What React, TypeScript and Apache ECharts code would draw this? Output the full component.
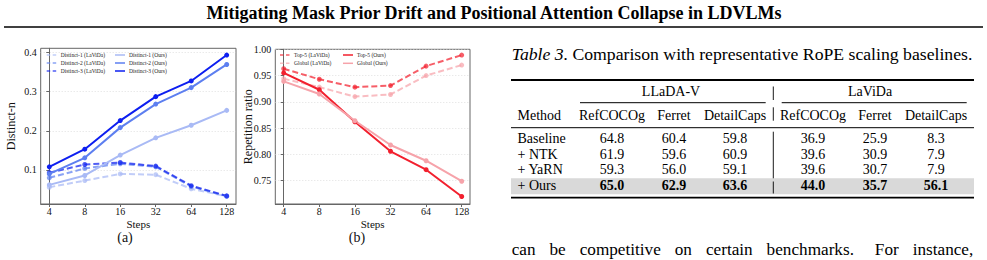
import React, { useEffect, useRef } from 'react';
import * as echarts from 'echarts';

// ---------- data ----------
const steps = ['4', '8', '16', '32', '64', '128'];
const stepIndex = [0, 1, 2, 3, 4, 5];

const distinct1LaViDa = [0.056, 0.073, 0.090, 0.088, 0.052, 0.033];
const distinct2LaViDa = [0.080, 0.104, 0.116, 0.108, 0.058, 0.033];
const distinct3LaViDa = [0.093, 0.114, 0.119, 0.110, 0.060, 0.034];
const distinct1Ours = [0.062, 0.086, 0.138, 0.182, 0.214, 0.252];
const distinct2Ours = [0.090, 0.131, 0.208, 0.268, 0.310, 0.369];
const distinct3Ours = [0.108, 0.153, 0.226, 0.287, 0.327, 0.393];

const top5LaViDa = [0.963, 0.943, 0.928, 0.931, 0.968, 0.989];
const globalLaViDa = [0.944, 0.928, 0.910, 0.914, 0.950, 0.970];
const top5Ours = [0.955, 0.923, 0.862, 0.806, 0.771, 0.720];
const globalOurs = [0.939, 0.915, 0.864, 0.818, 0.788, 0.749];

const distinctTicks = [0.1, 0.2, 0.3, 0.4];
const repetitionTicks = [0.75, 0.8, 0.85, 0.9, 0.95, 1.0];

const pageTitle = 'Mitigating Mask Prior Drift and Positional Attention Collapse in LDVLMs';
const tableCaptionLabel = 'Table 3.';
const tableCaptionText = ' Comparison with representative RoPE scaling baselines.';
const tableGroups = ['LLaDA-V', 'LaViDa'];
const tableMethodHeader = 'Method';
const tableColumns = ['RefCOCOg', 'Ferret', 'DetailCaps', 'RefCOCOg', 'Ferret', 'DetailCaps'];
const tableMethods = ['Baseline', '+ NTK', '+ YaRN', '+ Ours'];
const tableValues = [
  [64.8, 60.4, 59.8, 36.9, 25.9, 8.3],
  [61.9, 59.6, 60.9, 39.6, 30.9, 7.9],
  [59.3, 56.0, 59.1, 39.6, 30.7, 7.9],
  [65.0, 62.9, 63.6, 44.0, 35.7, 56.1],
];
const bottomWords = ['can', 'be', 'competitive', 'on', 'certain', 'benchmarks.', 'For', 'instance,'];

// ---------- styles ----------
const F = "'Liberation Serif', 'Times New Roman', Times, serif";
const C_D1 = '#a9baf5';
const C_D2 = '#5d7ff0';
const C_D3 = '#0d1ff0';
const C_TOP5 = '#f2202e';
const C_GLOBAL = '#f6a3aa';
const FRAME = '#666';

type SDef = { name: string; data: number[]; color: string; dashed: boolean; grid: number };

const seriesDefs: SDef[] = [
  { name: 'Distinct-1 (LaViDa)', data: distinct1LaViDa, color: C_D1, dashed: true, grid: 0 },
  { name: 'Distinct-2 (LaViDa)', data: distinct2LaViDa, color: C_D2, dashed: true, grid: 0 },
  { name: 'Distinct-3 (LaViDa)', data: distinct3LaViDa, color: C_D3, dashed: true, grid: 0 },
  { name: 'Distinct-1 (Ours)', data: distinct1Ours, color: C_D1, dashed: false, grid: 0 },
  { name: 'Distinct-2 (Ours)', data: distinct2Ours, color: C_D2, dashed: false, grid: 0 },
  { name: 'Distinct-3 (Ours)', data: distinct3Ours, color: C_D3, dashed: false, grid: 0 },
  { name: 'Top-5 (LaViDa)', data: top5LaViDa, color: C_TOP5, dashed: true, grid: 1 },
  { name: 'Global (LaViDa)', data: globalLaViDa, color: C_GLOBAL, dashed: true, grid: 1 },
  { name: 'Top-5 (Ours)', data: top5Ours, color: C_TOP5, dashed: false, grid: 1 },
  { name: 'Global (Ours)', data: globalOurs, color: C_GLOBAL, dashed: false, grid: 1 },
];

const DASH = [6, 3];

function measure(text: string, font: string): number {
  const c = document.createElement('canvas').getContext('2d');
  if (!c) return text.length * 8;
  c.font = font;
  return c.measureText(text).width;
}

function buildOption() {
  const grids = [
    { left: 40.7, top: 48.3, width: 195.3, height: 155.7 },
    { left: 275.3, top: 49.3, width: 194.7, height: 154.7 },
  ].map((g) => ({ ...g, show: true, borderColor: FRAME, borderWidth: 1, backgroundColor: 'transparent' }));

  const xRanges = [
    [-0.242, 5.262],
    [-0.236, 5.233],
  ];

  const xAxes = xRanges.map((r, i) => ({
    type: 'value',
    gridIndex: i,
    min: r[0],
    max: r[1],
    name: 'Steps',
    nameLocation: 'middle',
    nameGap: 14,
    nameMoveOverlap: false,
    nameTextStyle: { fontFamily: F, fontSize: 11, color: '#111' },
    axisLine: { show: true, onZero: false, lineStyle: { color: FRAME, width: 1 } },
    axisTick: { show: true, length: 3, customValues: stepIndex, lineStyle: { color: FRAME } },
    axisLabel: {
      customValues: stepIndex,
      margin: 2,
      fontFamily: F,
      fontSize: 10,
      color: '#111',
      formatter: (v: number) => steps[Math.round(v)],
    },
    splitLine: { show: false },
  }));

  const yAxes = [
    { gridIndex: 0, min: 0.0133, max: 0.4102, name: 'Distinct-n', ticks: distinctTicks, digits: 1, gap: 24 },
    { gridIndex: 1, min: 0.7057, max: 1.0, name: 'Repetition ratio', ticks: repetitionTicks, digits: 2, gap: 21.5 },
  ].map((a) => ({
    type: 'value',
    gridIndex: a.gridIndex,
    min: a.min,
    max: a.max,
    name: a.name,
    nameLocation: 'middle',
    nameGap: a.gap,
    nameMoveOverlap: false,
    nameRotate: 90,
    nameTextStyle: { fontFamily: F, fontSize: 12, color: '#111' },
    axisLine: { show: true, lineStyle: { color: FRAME, width: 1 } },
    axisTick: { show: true, length: 3, customValues: a.ticks, lineStyle: { color: FRAME } },
    axisLabel: {
      customValues: a.ticks,
      margin: 4,
      fontFamily: F,
      fontSize: 10,
      color: '#111',
      formatter: (v: number) => v.toFixed(a.digits),
    },
    splitLine: { show: true, lineStyle: { color: '#d8d8d8', type: [1, 2], width: 0.8 } },
  }));

  const series = seriesDefs.map((s) => ({
    type: 'line',
    name: s.name,
    xAxisIndex: s.grid,
    yAxisIndex: s.grid,
    data: s.data.map((v, i) => [stepIndex[i], v]),
    symbol: 'circle',
    symbolSize: 5,
    z: s.dashed ? 2 : 3,
    lineStyle: { color: s.color, width: 2, type: s.dashed ? DASH : 'solid', opacity: s.dashed ? 0.72 : 1 },
    itemStyle: { color: s.color, opacity: s.dashed ? 0.72 : 1 },
  }));

  // ----- graphic: legends -----
  const graphics: any[] = [];
  const legendLayouts = [
    { grid: 0, cols: [46.7, 115], rows: [55, 63, 71], perCol: 3 },
    { grid: 1, cols: [280, 343], rows: [55, 63.3], perCol: 2 },
  ];
  legendLayouts.forEach((L) => {
    const defs = seriesDefs.filter((s) => s.grid === L.grid);
    defs.forEach((s, k) => {
      const col = Math.floor(k / L.perCol);
      const row = k % L.perCol;
      const x = L.cols[col];
      const y = L.rows[row];
      graphics.push({
        type: 'line',
        shape: { x1: x, y1: y, x2: x + 10, y2: y },
        style: {
          stroke: s.color,
          lineWidth: 1.5,
          lineDash: s.dashed ? [3.5, 2.5] : null,
          opacity: s.dashed ? 0.72 : 1,
        },
        z: 10,
      });
      graphics.push({
        type: 'text',
        x: x + 14,
        y: y,
        style: { text: s.name, font: `5.5px ${F}`, fill: '#222', align: 'left', verticalAlign: 'middle' },
        z: 10,
      });
    });
  });

  // sub-captions
  graphics.push({
    type: 'text', x: 125, y: 237.5,
    style: { text: '(a)', font: `14px ${F}`, fill: '#111', align: 'center', verticalAlign: 'middle' },
  });
  graphics.push({
    type: 'text', x: 357, y: 237.5,
    style: { text: '(b)', font: `14px ${F}`, fill: '#111', align: 'center', verticalAlign: 'middle' },
  });

  // page header
  graphics.push({
    type: 'text', x: 494, y: 13,
    style: { text: pageTitle, font: `bold 18px ${F}`, fill: '#000', align: 'center', verticalAlign: 'middle' },
  });
  graphics.push({
    type: 'line', shape: { x1: 4, y1: 27, x2: 983, y2: 27 },
    style: { stroke: '#000', lineWidth: 1.5 },
  });

  // table caption
  graphics.push({
    type: 'text', x: 511.7, y: 54,
    style: {
      text: `{i|${tableCaptionLabel}}{n|${tableCaptionText}}`,
      align: 'left',
      verticalAlign: 'middle',
      rich: {
        i: { fontFamily: F, fontSize: 17.7, fontStyle: 'italic', fill: '#000' },
        n: { fontFamily: F, fontSize: 17.7, fill: '#000' },
      },
    },
  });

  const TL = 511;
  const TR = 974;
  const colX = [612, 674, 735, 813, 875, 936];
  const groupX = [671, 870];
  const rowY = [138.3, 154.3, 169.6, 185];
  const fs = 14;

  // rules
  graphics.push({ type: 'rect', shape: { x: TL, y: 178.3, width: TR - TL, height: 16 }, style: { fill: '#d9d9d9' } });
  graphics.push({ type: 'line', shape: { x1: TL, y1: 80, x2: TR, y2: 80 }, style: { stroke: '#000', lineWidth: 1.8 } });
  graphics.push({ type: 'line', shape: { x1: 580, y1: 102.7, x2: 765.7, y2: 102.7 }, style: { stroke: '#000', lineWidth: 1 } });
  graphics.push({ type: 'line', shape: { x1: 781.7, y1: 102.7, x2: 966.7, y2: 102.7 }, style: { stroke: '#000', lineWidth: 1 } });
  graphics.push({ type: 'line', shape: { x1: TL, y1: 127.7, x2: TR, y2: 127.7 }, style: { stroke: '#000', lineWidth: 1 } });
  graphics.push({ type: 'line', shape: { x1: TL, y1: 197.7, x2: TR, y2: 197.7 }, style: { stroke: '#000', lineWidth: 1.8 } });
  [
    [86.5, 100],
    [107.3, 120.7],
    [131.7, 178.3],
    [181.5, 193.5],
  ].forEach(([a, b]) =>
    graphics.push({ type: 'line', shape: { x1: 773.3, y1: a, x2: 773.3, y2: b }, style: { stroke: '#000', lineWidth: 0.9 } })
  );

  tableGroups.forEach((g, i) =>
    graphics.push({
      type: 'text', x: groupX[i], y: 91.7,
      style: { text: g, font: `${fs}px ${F}`, fill: '#000', align: 'center', verticalAlign: 'middle' },
    })
  );
  graphics.push({
    type: 'text', x: 517.5, y: 115,
    style: { text: tableMethodHeader, font: `${fs}px ${F}`, fill: '#000', align: 'left', verticalAlign: 'middle' },
  });
  tableColumns.forEach((c, i) =>
    graphics.push({
      type: 'text', x: colX[i], y: 115,
      style: { text: c, font: `${fs}px ${F}`, fill: '#000', align: 'center', verticalAlign: 'middle' },
    })
  );
  tableMethods.forEach((m, r) => {
    graphics.push({
      type: 'text', x: 517.5, y: rowY[r],
      style: { text: m, font: `${fs}px ${F}`, fill: '#000', align: 'left', verticalAlign: 'middle' },
    });
    const bold = r === tableMethods.length - 1;
    tableValues[r].forEach((v, c) =>
      graphics.push({
        type: 'text', x: colX[c], y: rowY[r],
        style: {
          text: v.toFixed(1),
          font: `${bold ? 'bold ' : ''}${fs}px ${F}`,
          fill: '#000', align: 'center', verticalAlign: 'middle',
        },
      })
    );
  });

  // justified body line
  const bodyFont = `17.2px ${F}`;
  const lineL = 511.7;
  const lineR = 973.3;
  const widths = bottomWords.map((w) => measure(w, bodyFont));
  const totalW = widths.reduce((a, b) => a + b, 0);
  const gapWeights = bottomWords.slice(0, -1).map((w) => (w.endsWith('.') ? 1.5 : 1));
  const weightSum = gapWeights.reduce((a, b) => a + b, 0);
  const unit = (lineR - lineL - totalW) / weightSum;
  let cx = lineL;
  bottomWords.forEach((w, i) => {
    graphics.push({
      type: 'text', x: cx, y: 249.5,
      style: { text: w, font: bodyFont, fill: '#000', align: 'left', verticalAlign: 'middle' },
    });
    cx += widths[i] + (i < gapWeights.length ? gapWeights[i] * unit : 0);
  });

  return {
    animation: false,
    backgroundColor: '#fff',
    grid: grids,
    xAxis: xAxes,
    yAxis: yAxes,
    series,
    graphic: { elements: graphics },
  };
}

export default function App() {
  const ref = useRef<HTMLDivElement>(null);
  useEffect(() => {
    document.body.style.margin = '0';
    if (!ref.current) return;
    const chart = echarts.init(ref.current, undefined, { renderer: 'svg' });
    chart.setOption(buildOption() as any);
    return () => chart.dispose();
  }, []);
  return <div ref={ref} style={{ width: 987, height: 260 }} />;
}
